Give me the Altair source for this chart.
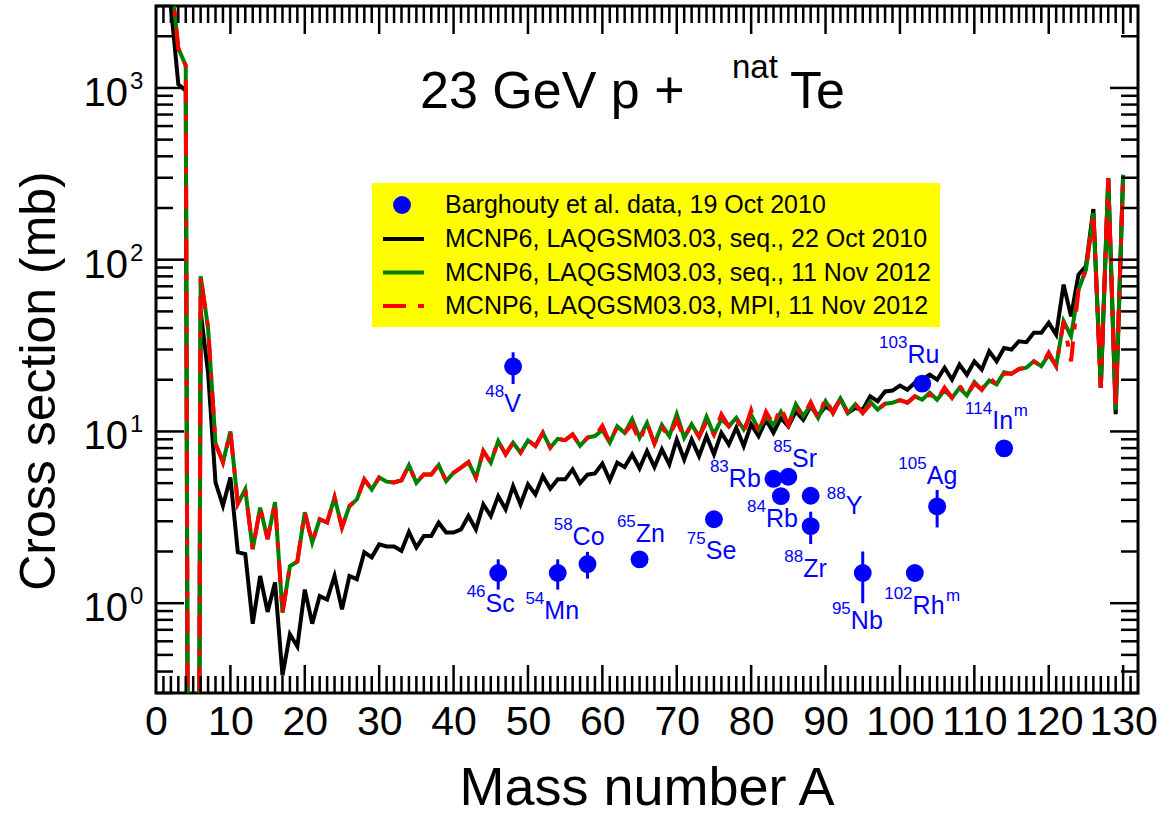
import altair as alt
import pandas as pd

# ---------------------------------------------------------------- data
mass = list(range(2, 131))

# MCNP6 / LAQGSM03.03, sequential, 22 Oct 2010  (mb), A = 2 ... 130
sigma_seq_2010 = [
    3000, 1050, 965, 1e-12, 50, 22, 5.05, 3.7,                        # 2-9
    5.4, 1.98, 1.93, 0.76, 1.44, 0.89, 1.32, 0.38, 0.66, 0.56,        # 10-19
    1.2, 0.76, 1.1, 1.05, 1.44, 0.92, 1.44, 1.38, 1.98, 1.85,         # 20-29
    2.2, 2.14, 2.14, 2.02, 2.6, 2.11, 2.46, 2.46, 2.94, 2.58,         # 30-39
    2.58, 2.69, 3.22, 2.69, 3.76, 3.22, 4.2, 3.52, 4.81, 3.76,        # 40-49
    4.92, 4.3, 5.5, 4.64, 5.26, 5.26, 6.01, 5.0, 5.6, 5.7,            # 50-59
    6.5, 5.2, 6.58, 6.2, 7.35, 6.1, 7.69, 6.2, 7.86, 6.43,            # 60-69
    8.98, 6.87, 8.98, 7.18, 9.4, 7.35, 9.83, 8.4, 10.5, 8.22,         # 70-79
    11.0, 9.4, 11.7, 9.83, 12.0, 10.7, 13.1, 11.7, 14.0, 12.3,        # 80-89
    14.0, 13.1, 15.5, 12.8, 13.7, 13.4, 16.0, 15.0, 17.1, 17.3,       # 90-99
    18.5, 17.5, 19.2, 20.0, 21.4, 20.0, 23.5, 20.0, 24.5, 21.4,       # 100-109
    25.6, 22.9, 29.3, 25.6, 30.6, 30.0, 33.5, 33.1, 37.5, 37.5,       # 110-119
    42.9, 36.6, 71.6, 46.8, 81.8, 91.4, 197, 18, 298, 12.6,           # 120-129
    312,                                                              # 130
]

# MCNP6 / LAQGSM03.03, sequential, 11 Nov 2012  (mb)
sigma_seq_2012 = [
    4500, 1700, 1350, 1e-12, 80, 40, 8.5, 6.6,                        # 2-9
    10.0, 3.8, 4.6, 2.06, 3.6, 2.36, 3.87, 0.88, 1.64, 1.75,          # 10-19
    3.38, 2.26, 3.08, 2.95, 4.13, 2.76, 3.67, 4.02, 5.26, 4.6,        # 20-29
    5.4, 5.1, 5.05, 5.2, 6.35, 5.02, 5.62, 5.62, 6.37, 5.14,          # 30-39
    5.75, 6.15, 6.63, 5.38, 7.69, 6.58, 8.79, 7.35, 8.6, 7.52,        # 40-49
    8.87, 8.22, 9.83, 8.04, 9.06, 8.9, 9.6, 8.25, 9.2, 9.4,           # 50-59
    10.2, 8.6, 10.7, 9.8, 11.8, 9.2, 11.2, 8.5, 10.9, 9.4,            # 60-69
    12.6, 9.2, 11.0, 9.3, 12.2, 9.6, 11.8, 10.7, 12.0, 10.3,          # 70-79
    12.5, 10.3, 12.2, 10.9, 13.0, 10.9, 14.4, 12.3, 14.2, 12.0,       # 80-89
    15.0, 12.8, 15.5, 12.8, 14.4, 12.8, 14.9, 13.4, 14.5, 14.7,       # 90-99
    15.2, 14.7, 16.0, 15.3, 16.8, 15.3, 17.4, 15.7, 17.9, 16.2,       # 100-109
    19.4, 17.5, 19.8, 18.8, 22.1, 21.7, 23.1, 23.5, 25.6, 24.0,       # 110-119
    28.0, 24.0, 43.8, 35.8, 66.9, 87.4, 187, 17.9, 299, 13.4,         # 120-129
    312,                                                              # 130
]

# MCNP6 / LAQGSM03.03, MPI, 11 Nov 2012  (mb)
sigma_mpi_2012 = [
    4500, 1700, 1350, 1e-12, 80, 40, 8.5, 6.6,                        # 2-9
    10.0, 3.8, 4.6, 2.06, 3.6, 2.36, 3.87, 0.88, 1.64, 1.75,          # 10-19
    3.38, 2.26, 3.08, 2.95, 4.13, 2.76, 3.67, 4.02, 5.26, 4.6,        # 20-29
    5.4, 5.1, 5.05, 5.2, 6.35, 5.02, 5.62, 5.62, 6.37, 5.14,          # 30-39
    5.75, 6.15, 6.63, 5.38, 7.69, 6.58, 8.79, 7.35, 8.6, 7.52,        # 40-49
    8.87, 8.22, 9.83, 8.04, 9.06, 8.9, 9.6, 8.25, 9.2, 9.4,           # 50-59
    10.8, 8.6, 10.7, 9.8, 11.0, 8.8, 11.2, 8.5, 10.5, 9.4,            # 60-69
    11.6, 9.2, 11.0, 9.3, 11.4, 9.6, 12.6, 10.7, 12.0, 9.8,           # 70-79
    13.3, 9.8, 13.0, 10.9, 13.8, 10.9, 13.8, 12.3, 14.8, 12.0,        # 80-89
    15.6, 12.8, 15.5, 12.8, 14.4, 12.8, 14.3, 13.4, 14.5, 14.7,       # 90-99
    15.2, 14.7, 16.0, 15.3, 16.4, 15.3, 18.0, 15.7, 18.5, 16.2,       # 100-109
    19.0, 17.5, 20.6, 18.8, 21.7, 21.7, 23.1, 23.5, 25.6, 24.0,       # 110-119
    28.8, 24.0, 43.8, 25.6, 66.9, 87.4, 187, 17.9, 299, 13.4,         # 120-129
    312,                                                              # 130
]

# Barghouty et al. measured cross sections (mb)
iso_a = [46, 48, 54, 58, 65, 75, 83, 84, 85, 88, 88, 95, 102, 103, 105, 114]
iso_sigma = [1.5, 23.9, 1.5, 1.69, 1.8, 3.08, 5.3, 4.2, 5.45, 4.22, 2.81,
             1.5, 1.5, 19.0, 3.66, 7.97]
iso_err = [0.3, 5.0, 0.3, 0.3, 0.1, 0.15, 0.3, 0.3, 0.3, 0.3, 0.6,
           0.5, 0.1, 1.5, 0.9, 0.3]
iso_mass_text = ["46", "48", "54", "58", "65", "75", "83", "84", "85", "88",
                 "88", "95", "102", "103", "105", "114"]
iso_symbol = ["Sc", "V", "Mn", "Co", "Zn", "Se", "Rb", "Rb", "Sr", "Y",
              "Zr", "Nb", "Rh", "Ru", "Ag", "In"]
iso_meta = ["", "", "", "", "", "", "", "", "", "", "", "", "m", "", "", "m"]

# annotation anchors (data units): junction of mass number and symbol, symbol baseline
label_a = [44.3, 46.8, 52.2, 56.0, 64.5, 73.9, 77.0, 82.0, 85.5, 92.7, 87.0,
           93.4, 101.7, 101.0, 103.6, 112.4]
label_sigma = [0.89, 12.9, 0.807, 2.17, 2.26, 1.80, 4.73, 2.77, 6.18, 3.29,
               1.42, 0.706, 0.863, 24.9, 4.92, 10.3]
meta_a = [106.2, 115.3]
meta_sigma = [0.863, 10.3]
meta_text = ["m", "m"]

# axis ticks and labels
x_major = list(range(10, 131, 10))
x_minor = [a for a in range(1, 132) if a % 10 != 0]
y_major = [1, 10, 100, 1000]
y_minor = [0.3, 0.4, 0.5, 0.6, 0.7, 0.8, 0.9] + [
    m * d for d in (1, 10, 100) for m in range(2, 10)] + [2000, 3000]
y_label_exp = ["0", "1", "2", "3"]

legend_labels = [
    "Barghouty et al. data, 19 Oct 2010",
    "MCNP6, LAQGSM03.03, seq., 22 Oct 2010",
    "MCNP6, LAQGSM03.03, seq., 11 Nov 2012",
    "MCNP6, LAQGSM03.03, MPI, 11 Nov 2012",
]

# ---------------------------------------------------------------- layout
W, H = 982, 687
FONT = "Liberation Sans"
BLUE = "#0000ff"
GREEN = "#008000"
RED = "#ff0000"
DASH = [23, 12, 6, 12]

xs = alt.Scale(domain=[0, 132], nice=False, zero=False)
ys = alt.Scale(type="log", domain=[0.3, 3000], nice=False)
xa = alt.Axis(values=list(range(0, 131, 10)), title=None, ticks=False,
              domain=False, grid=False, labelFontSize=41, labelFont=FONT,
              labelColor="black", labelPadding=9, labelFlush=False,
              labelOverlap=False)
ya = alt.Axis(title=None, labels=False, ticks=False, domain=False, grid=False)

curves = pd.DataFrame({
    "A": mass,
    "s2010": sigma_seq_2010,
    "seq2012": sigma_seq_2012,
    "mpi2012": sigma_mpi_2012,
})

iso = pd.DataFrame({
    "A": iso_a,
    "sigma": iso_sigma,
    "lo": [s - e for s, e in zip(iso_sigma, iso_err)],
    "hi": [s + e for s, e in zip(iso_sigma, iso_err)],
    "sup": iso_mass_text,
    "sym": iso_symbol,
    "la": label_a,
    "ls": label_sigma,
})
meta = pd.DataFrame({"a": meta_a, "s": meta_sigma, "t": meta_text})


def X(field):
    return alt.X(field, type="quantitative", scale=xs, axis=xa)


def Y(field):
    return alt.Y(field, type="quantitative", scale=ys, axis=ya)


base = alt.Chart(curves)
line_2010 = base.mark_line(color="black", strokeWidth=4, clip=True).encode(
    x=X("A"), y=Y("s2010"))
line_seq = base.mark_line(color=GREEN, strokeWidth=4, clip=True).encode(
    x=X("A"), y=Y("seq2012"))
line_mpi = base.mark_line(color=RED, strokeWidth=4, strokeDash=DASH,
                          clip=True).encode(x=X("A"), y=Y("mpi2012"))

ibase = alt.Chart(iso)
err_bars = ibase.mark_rule(color=BLUE, strokeWidth=3).encode(
    x=X("A"), y=Y("lo"), y2="hi")
dots = ibase.mark_circle(color=BLUE, opacity=1, size=320).encode(
    x=X("A"), y=Y("sigma"))
sup_text = ibase.mark_text(align="right", baseline="alphabetic", fontSize=17,
                           dy=-15, color=BLUE, font=FONT).encode(
    x=X("la"), y=Y("ls"), text="sup")
sym_text = ibase.mark_text(align="left", baseline="alphabetic", fontSize=25,
                           color=BLUE, font=FONT).encode(
    x=X("la"), y=Y("ls"), text="sym")
meta_marks = alt.Chart(meta).mark_text(
    align="left", baseline="alphabetic", fontSize=17, dy=-13, color=BLUE,
    font=FONT).encode(x=X("a"), y=Y("s"), text="t")


# inward tick marks on all four sides
def xticks(vals, length):
    d = alt.Chart(pd.DataFrame({"t": vals}))
    bot = d.mark_rule(color="black", strokeWidth=2.5).encode(
        x=X("t"), y=alt.value(H), y2=alt.value(H - length))
    top = d.mark_rule(color="black", strokeWidth=2.5).encode(
        x=X("t"), y=alt.value(0), y2=alt.value(length))
    return [bot, top]


def yticks(vals, length):
    d = alt.Chart(pd.DataFrame({"t": vals}))
    left = d.mark_rule(color="black", strokeWidth=2.5).encode(
        y=Y("t"), x=alt.value(0), x2=alt.value(length))
    right = d.mark_rule(color="black", strokeWidth=2.5).encode(
        y=Y("t"), x=alt.value(W - length), x2=alt.value(W))
    return [left, right]


tick_layers = (xticks(x_minor, 17) + xticks(x_major, 28)
               + yticks(y_minor, 17) + yticks(y_major, 28))

# y tick labels written as 10 with a raised exponent
ylab = alt.Chart(pd.DataFrame({"v": y_major, "e": y_label_exp}))
ylab_base = ylab.mark_text(align="right", baseline="middle", fontSize=40,
                           dy=6, font=FONT, color="black").encode(
    y=Y("v"), x=alt.value(-28), text=alt.value("10"))
ylab_exp = ylab.mark_text(align="left", baseline="middle", fontSize=24,
                          dy=-6, font=FONT, color="black").encode(
    y=Y("v"), x=alt.value(-26), text="e")

one = pd.DataFrame({"k": [0]})


def txt(s, x, y, size, **kw):
    return alt.Chart(one).mark_text(text=s, fontSize=size, font=FONT,
                                    color=kw.pop("color", "black"), **kw
                                    ).encode(x=alt.value(x), y=alt.value(y))


title_parts = [
    txt("23 GeV p +", 264, 102, 52, align="left", baseline="alphabetic"),
    txt("nat", 576, 72, 33, align="left", baseline="alphabetic"),
    txt("Te", 634, 102, 52, align="left", baseline="alphabetic"),
]
axis_titles = [
    txt("Cross section (mb)", -116, 375, 50, align="center",
        baseline="middle", angle=270),
    txt("Mass number A", 491, H + 112, 54, align="center",
        baseline="alphabetic"),
]

# legend box
rows = [199, 233, 266.5, 300]
leg = [alt.Chart(one).mark_rect(color="#ffff00").encode(
    x=alt.value(216), x2=alt.value(784), y=alt.value(177), y2=alt.value(321))]
leg.append(alt.Chart(one).mark_circle(color=BLUE, opacity=1, size=320).encode(
    x=alt.value(246), y=alt.value(rows[0])))
for r, color, dash in [(rows[1], "black", None), (rows[2], GREEN, None),
                       (rows[3], RED, [23, 12, 6, 40])]:
    kw = {"strokeDash": dash} if dash else {}
    leg.append(alt.Chart(one).mark_rule(color=color, strokeWidth=4, **kw)
               .encode(x=alt.value(227), x2=alt.value(268), y=alt.value(r)))
for r, s in zip(rows, legend_labels):
    leg.append(txt(s, 289, r, 25, align="left", baseline="middle"))

chart = alt.layer(
    line_2010, line_seq, line_mpi,
    *tick_layers,
    err_bars, dots, sup_text, sym_text, meta_marks,
    ylab_base, ylab_exp,
    *leg, *title_parts, *axis_titles,
).properties(
    width=W, height=H,
    autosize=alt.AutoSizeParams(type="none"),
    padding={"left": 156, "top": 6, "right": 26, "bottom": 124},
    background="white",
).configure_view(stroke="black", strokeWidth=3)

chart.save("out.html", embed_options={"renderer": "svg", "actions": False})
